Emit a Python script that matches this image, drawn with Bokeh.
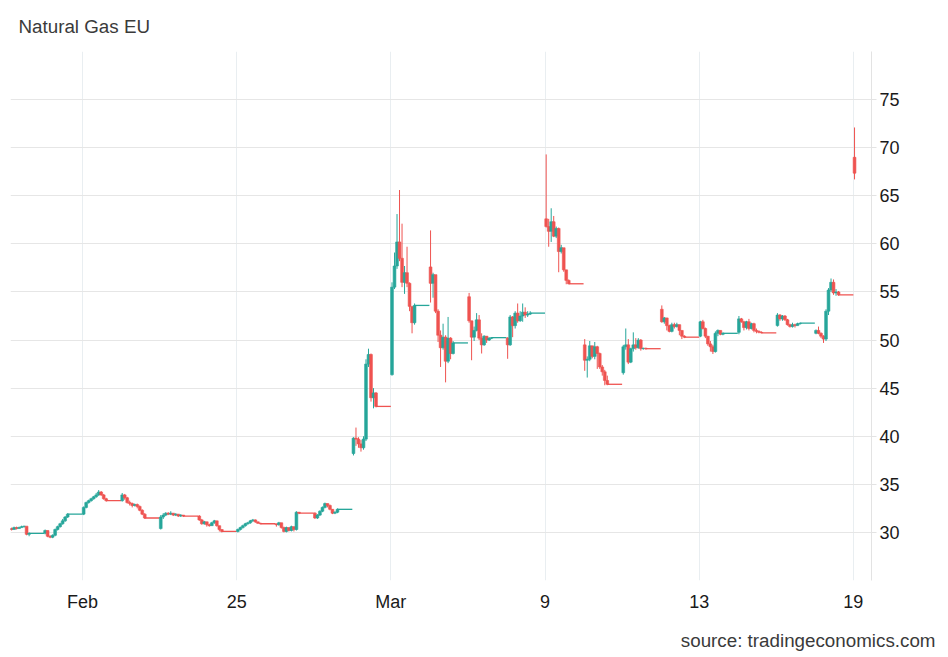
from bokeh.plotting import figure
from bokeh.models import Range1d, FixedTicker, ColumnDataSource, Title, LinearAxis
from bokeh.embed import file_html
from bokeh.resources import INLINE

# ---------------- data ----------------
trading_days = ["Feb 17", "Feb 18", "Feb 19", "Feb 20", "Feb 23", "Feb 24", "Feb 25",
                "Feb 26", "Feb 27", "Mar 2", "Mar 3", "Mar 4", "Mar 5", "Mar 6",
                "Mar 9", "Mar 10", "Mar 11", "Mar 12", "Mar 13", "Mar 16", "Mar 17",
                "Mar 18", "Mar 19"]
tick_days = ["Feb 19", "Feb 25", "Mar 3", "Mar 9", "Mar 13", "Mar 19"]
tick_labels = ["Feb", "25", "Mar", "9", "13", "19"]
y_ticks = [30, 35, 40, 45, 50, 55, 60, 65, 70, 75]
y_grid = [25, 30, 35, 40, 45, 50, 55, 60, 65, 70, 75, 80]

day_open = [30.3, 29.9, 31.9, 33.3, 30.4, 31.7, 30.1, 30.9, 32.0, 38.2, 46.4, 57.6,
            54.5, 50.2, 62.6, 49.5, 46.6, 53.2, 50.4, 50.8, 51.5, 50.7, 69.0]

day_close = [
    [30.35, 30.4, 30.3, 30.5, 30.4, 30.5, 30.6, 30.65, 29.8, 29.9],
    [30.2, 29.6, 29.5, 29.7, 30.3, 30.6, 30.9, 31.2, 31.6, 31.9],
    [32.6, 33.1, 33.3, 33.5, 33.7, 33.9, 34.2, 33.9, 33.5, 33.3],
    [33.9, 33.6, 33.1, 33.0, 32.8, 32.9, 32.7, 32.3, 31.9, 31.5],
    [31.6, 31.8, 32.0, 31.9, 32.0, 31.8, 31.9, 31.7, 31.8, 31.7],
    [31.3, 30.9, 31.1, 30.8, 30.7, 31.0, 31.2, 30.7, 30.3, 30.1],
    [30.3, 30.5, 30.7, 30.9, 31.0, 31.2, 31.3, 31.1, 30.95, 30.9],
    [30.8, 31.0, 30.5, 30.1, 30.5, 30.2, 30.6, 30.3, 32.1, 32.0],
    [31.5, 31.8, 32.2, 32.6, 33.0, 32.8, 32.4, 32.0, 32.1, 32.4],
    [39.8, 39.7, 39.2, 38.8, 39.7, 47.5, 48.5, 44.0, 44.5, 43.1],
    [55.5, 57.7, 60.2, 58.5, 56.0, 57.0, 55.9, 53.5, 51.8, 53.6],
    [55.9, 56.8, 53.0, 50.5, 49.2, 50.3, 47.8, 50.2, 48.6, 49.7],
    [52.0, 50.3, 51.0, 52.1, 50.2, 49.5, 50.4, 50.0, 50.2, 50.25],
    [49.5, 52.4, 51.5, 52.8, 52.0, 52.5, 52.9, 52.6, 52.7, 52.8],
    [61.8, 61.3, 62.3, 60.8, 61.6, 59.2, 59.6, 57.3, 56.2, 55.85],
    [47.9, 48.0, 49.4, 48.3, 49.3, 48.6, 47.2, 46.7, 45.8, 45.4],
    [49.3, 49.5, 47.7, 49.1, 49.5, 49.2, 50.0, 49.1, 49.15, 49.1],
    [51.9, 52.3, 51.5, 50.9, 51.6, 51.4, 51.6, 51.0, 50.4, 50.3],
    [51.9, 51.2, 50.4, 49.6, 49.3, 48.8, 50.7, 51.0, 50.6, 50.7],
    [52.2, 51.9, 51.3, 51.9, 51.2, 51.7, 51.0, 50.9, 50.8, 50.75],
    [52.6, 52.2, 52.5, 52.1, 51.6, 51.4, 51.6, 51.5, 51.7, 51.75],
    [51.0, 50.7, 50.4, 50.1, 53.0, 55.2, 56.0, 54.9, 55.0, 54.7],
    [67.35],
]
day_high = [
    [30.4, 30.5, 30.5, 30.6, 30.6, 30.6, 30.7, 30.7, 30.6, 30.0],
    [30.3, 30.2, 29.7, 29.8, 30.4, 30.7, 31.0, 31.4, 31.7, 32.0],
    [32.7, 33.2, 33.4, 33.6, 33.8, 34.1, 34.4, 34.3, 34.0, 33.6],
    [34.1, 34.0, 33.7, 33.3, 33.1, 33.0, 33.0, 32.8, 32.4, 32.0],
    [31.8, 32.0, 32.1, 32.1, 32.2, 32.0, 32.0, 31.9, 31.9, 31.8],
    [31.8, 31.4, 31.2, 31.1, 30.9, 31.1, 31.3, 31.2, 30.7, 30.3],
    [30.4, 30.6, 30.8, 31.0, 31.1, 31.3, 31.4, 31.35, 31.1, 31.0],
    [30.9, 31.1, 31.0, 30.6, 30.6, 30.5, 30.7, 30.6, 32.2, 32.1],
    [32.1, 31.9, 32.3, 32.7, 33.1, 33.0, 32.9, 32.4, 32.2, 32.5],
    [39.9, 40.9, 39.9, 39.6, 40.0, 48.0, 49.1, 48.6, 45.0, 44.6],
    [56.0, 59.1, 63.1, 65.6, 62.1, 57.7, 59.7, 56.0, 53.0, 53.8],
    [61.4, 57.0, 56.4, 53.2, 51.0, 51.7, 50.5, 52.4, 50.3, 49.9],
    [54.9, 52.0, 51.4, 52.8, 52.6, 50.7, 50.5, 50.4, 50.3, 50.3],
    [50.3, 52.6, 52.5, 53.0, 53.8, 53.0, 53.8, 53.4, 53.0, 53.0],
    [69.3, 62.6, 63.7, 62.9, 61.8, 61.7, 59.9, 59.5, 57.3, 56.3],
    [50.1, 48.3, 49.9, 49.4, 49.8, 49.4, 48.7, 47.4, 46.9, 46.3],
    [49.5, 51.2, 50.1, 49.2, 50.8, 50.2, 50.2, 50.1, 49.2, 49.2],
    [53.6, 52.4, 52.3, 51.6, 51.8, 51.8, 51.8, 51.6, 51.0, 50.5],
    [52.0, 52.1, 51.3, 50.4, 49.9, 49.5, 50.9, 51.1, 51.0, 50.8],
    [52.5, 52.3, 52.0, 52.0, 52.2, 51.8, 51.8, 51.2, 51.0, 50.9],
    [52.8, 52.7, 52.6, 52.6, 52.2, 51.7, 51.8, 51.7, 51.8, 51.8],
    [51.1, 51.4, 50.8, 50.5, 53.2, 55.4, 56.4, 56.3, 55.3, 55.1],
    [72.1],
]
day_low = [
    [30.2, 30.3, 30.2, 30.3, 30.3, 30.4, 30.5, 30.5, 29.7, 29.6],
    [29.8, 29.5, 29.4, 29.4, 29.6, 30.2, 30.5, 30.8, 31.1, 31.5],
    [31.8, 32.5, 33.0, 33.2, 33.4, 33.6, 33.8, 33.8, 33.4, 33.2],
    [33.2, 33.4, 33.0, 32.8, 32.6, 32.7, 32.5, 32.2, 31.8, 31.4],
    [30.3, 31.4, 31.7, 31.8, 31.8, 31.7, 31.7, 31.6, 31.6, 31.6],
    [31.2, 30.8, 30.8, 30.6, 30.6, 30.7, 30.9, 30.6, 30.1, 30.0],
    [30.0, 30.2, 30.4, 30.6, 30.8, 30.9, 31.1, 31.0, 30.9, 30.85],
    [30.6, 30.7, 30.4, 30.0, 30.0, 30.1, 30.1, 30.1, 30.2, 31.9],
    [31.4, 31.4, 31.7, 32.1, 32.5, 32.6, 32.3, 31.9, 31.9, 32.0],
    [38.0, 39.0, 38.8, 38.4, 38.6, 39.5, 47.2, 43.6, 42.9, 43.0],
    [46.3, 55.3, 57.4, 58.2, 55.5, 54.8, 55.5, 53.0, 50.7, 51.6],
    [53.9, 54.4, 52.8, 49.8, 47.2, 49.0, 45.6, 47.6, 48.0, 48.5],
    [51.8, 47.9, 49.9, 50.9, 50.0, 48.6, 49.4, 49.7, 49.9, 50.1],
    [48.05, 49.4, 50.3, 51.2, 51.8, 51.9, 51.9, 52.3, 52.4, 52.6],
    [61.7, 59.7, 60.2, 60.7, 60.6, 57.05, 59.0, 57.1, 55.8, 55.8],
    [46.8, 46.1, 47.8, 48.1, 48.0, 47.0, 47.0, 46.3, 45.3, 45.3],
    [46.4, 49.0, 47.5, 47.6, 48.8, 49.0, 49.1, 48.9, 49.0, 49.0],
    [51.8, 51.7, 51.0, 50.8, 50.8, 51.2, 51.3, 50.5, 50.1, 50.2],
    [50.3, 51.1, 50.2, 49.4, 48.8, 48.55, 48.7, 50.4, 50.5, 50.5],
    [50.6, 51.8, 51.0, 51.1, 51.0, 51.1, 50.8, 50.7, 50.7, 50.7],
    [51.4, 52.0, 52.0, 52.0, 51.5, 51.3, 51.3, 51.3, 51.5, 51.6],
    [50.6, 50.6, 50.2, 49.7, 49.9, 52.6, 55.0, 54.7, 54.6, 54.6],
    [66.7],
]

# ---------------- build candles ----------------
UP = "#26a69a"
DOWN = "#ef5350"
STEP = 0.065      # spacing of candles inside a trading day (day units)
FIRST = 0.03

xs, o_l, h_l, l_l, c_l, col = [], [], [], [], [], []
fx0, fx1, fy, fcol = [], [], [], []
n_days = len(trading_days)
for d in range(n_days):
    o = day_open[d]
    last_x, last_c, last_col = None, None, None
    for k, c in enumerate(day_close[d]):
        x = d + FIRST + STEP * k
        color = UP if c >= o else DOWN
        xs.append(x); o_l.append(o); c_l.append(c)
        h_l.append(day_high[d][k]); l_l.append(day_low[d][k]); col.append(color)
        last_x, last_c, last_col = x, c, color
        o = c
    if d < n_days - 1:
        fx0.append(last_x); fx1.append(d + 1); fy.append(last_c); fcol.append(last_col)

src = ColumnDataSource(dict(x=xs, top=[max(a, b) for a, b in zip(o_l, c_l)],
                            bottom=[min(a, b) for a, b in zip(o_l, c_l)],
                            high=h_l, low=l_l, color=col))
flat = ColumnDataSource(dict(x0=fx0, x1=fx1, y=fy, color=fcol))

tick_pos = [trading_days.index(t) for t in tick_days]

# ---------------- figure ----------------
FONT = "Liberation Sans"
p = figure(width=940, height=653, output_backend="svg", toolbar_location=None,
           x_range=Range1d(0.132, 22.47), y_range=Range1d(25, 80),
           y_axis_location="right",
           min_border_left=10, min_border_right=69, min_border_top=51, min_border_bottom=73)
p.outline_line_color = None
p.background_fill_color = "white"
p.border_fill_color = "white"

# title (top-left)
p.title.text = "Natural Gas EU"
p.title.align = "left"
p.title.vertical_align = "top"
p.title.offset = 8
p.title.standoff = 26
p.title.text_font = FONT
p.title.text_font_size = "18.8px"
p.title.text_font_style = "normal"
p.title.text_color = "#3a3a3a"

# grids
p.xgrid.ticker = FixedTicker(ticks=tick_pos)
p.xgrid.grid_line_color = "#e9eef1"
p.ygrid.ticker = FixedTicker(ticks=y_grid)
p.ygrid.grid_line_color = "#e6e6e6"

# x axis
xa = p.xaxis[0]
xa.ticker = FixedTicker(ticks=tick_pos)
xa.major_label_overrides = {pos: lab for pos, lab in zip(tick_pos, tick_labels)}
xa.axis_line_color = None
xa.major_tick_line_color = None
xa.minor_tick_line_color = None
xa.major_tick_in = 0
xa.major_tick_out = 0
xa.major_label_standoff = 11
xa.major_label_text_font = FONT
xa.major_label_text_font_size = "18px"
xa.major_label_text_color = "#1a1a1a"

# spacer axis: one white tick mark (invisible on the white border), no label;
# it only reserves vertical room so the source note sits at the bottom edge
spacer = LinearAxis(ticker=FixedTicker(ticks=[tick_pos[0]]), axis_line_color=None,
                    major_tick_line_color="white", minor_tick_line_color=None,
                    major_tick_in=0, major_tick_out=13, major_label_standoff=0,
                    major_label_overrides={tick_pos[0]: ""},
                    major_label_text_font_size="0px", major_label_text_color=None)
p.add_layout(spacer, "below")

# y axis (right)
ya = p.yaxis[0]
ya.ticker = FixedTicker(ticks=y_ticks)
ya.axis_line_color = "#e3e3e3"
ya.major_tick_line_color = "#e3e3e3"
ya.major_tick_in = 0
ya.major_tick_out = 5
ya.minor_tick_line_color = None
ya.major_label_standoff = 3
ya.major_label_text_font = FONT
ya.major_label_text_font_size = "18px"
ya.major_label_text_color = "#1a1a1a"

# flat (non-trading) segments
p.segment(x0="x0", y0="y", x1="x1", y1="y", color="color", line_width=1.3, source=flat)
# wicks
p.segment(x0="x", y0="low", x1="x", y1="high", color="color", line_width=1, source=src)
# bodies
p.vbar(x="x", width=0.072, top="top", bottom="bottom", fill_color="color",
       line_color="color", line_width=0.6, source=src)

# source note (bottom-right)
p.add_layout(Title(text="source: tradingeconomics.com", align="right", offset=-64,
                   standoff=0, vertical_align="bottom", text_font=FONT,
                   text_font_size="18.8px", text_font_style="normal",
                   text_color="#3a3a3a"), "below")

open("out.html", "w").write(file_html(p, INLINE))
